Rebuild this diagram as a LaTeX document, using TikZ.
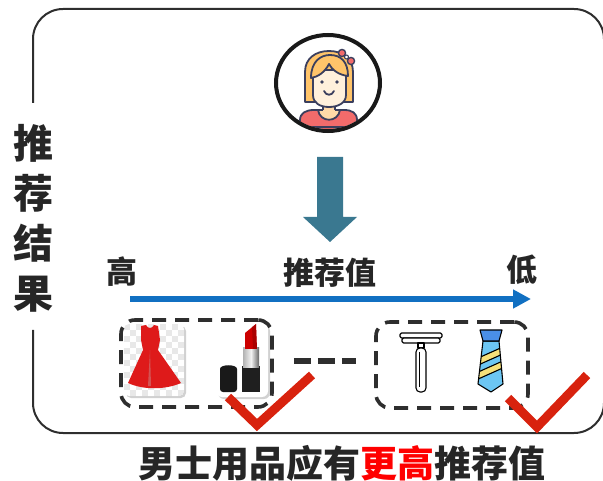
\documentclass[tikz,border=0pt]{standalone}
\usepackage{fontspec}
\setmainfont{Noto Sans CJK SC}
\usetikzlibrary{arrows.meta,shapes.geometric}
\definecolor{ink}{HTML}{262626}
\definecolor{framec}{HTML}{2E2E2E}
\definecolor{teal}{HTML}{3A7890}
\definecolor{axisblue}{HTML}{1170C2}
\definecolor{checkred}{HTML}{D8220E}
\definecolor{hair}{HTML}{FFC46A}
\definecolor{skin}{HTML}{FFF0DC}
\definecolor{neckc}{HTML}{FFD9A8}
\definecolor{dressc}{HTML}{F26B6B}
\definecolor{outl}{HTML}{3B3F5E}
\definecolor{dressred}{HTML}{DE1A1A}
\definecolor{tieknot}{HTML}{4A8FE8}
\definecolor{tiebody}{HTML}{6CC6F3}
\definecolor{tiestripe}{HTML}{F5E07A}
\tikzset{
  label/.style={text=ink, font=\bfseries\fontsize{31}{31}\selectfont, inner sep=0pt},
  dbox/.style={draw=framec, line width=3.6pt, dash pattern=on 14pt off 9pt,
    rounded corners=14pt, inner sep=0pt},
  tick/.style={draw=checkred, line width=9pt, miter limit=10},
  toon/.style={draw=outl, line width=1.8pt, line join=round},
  thing/.style={draw=black, line width=1.1pt, line join=round}
}
\begin{document}
\begin{tikzpicture}[x=1pt,y=-1pt]
\useasboundingbox (0,0) rectangle (603,481);

% outer frame, open on the left around the vertical title
\draw[framec, line width=2pt, rounded corners=30pt]
  (33,103) -- (33,9) -- (604,9) -- (604,433) -- (33,433) -- (33,330);
\node[text=ink, font=\bfseries\fontsize{40}{50}\selectfont, align=center, inner sep=0pt]
  (side) at (33,218) {推\\荐\\结\\果};

% user avatar
\begin{scope}
  \clip (328,83) ellipse [x radius=50pt, y radius=46pt];
  \fill[white] (270,30) rectangle (390,140);
  % back hair
  \filldraw[toon, fill=hair] (305,102) -- (305,72)
    .. controls (305,58) and (316,51) .. (329,51)
    .. controls (342,51) and (353,58) .. (353,72) -- (353,102) -- cycle;
  % body and neck
  \filldraw[toon, fill=dressc] (300,132) -- (300,120)
    .. controls (300,113) and (306,110) .. (314,110) -- (344,110)
    .. controls (352,110) and (357,113) .. (357,120) -- (357,132) -- cycle;
  \filldraw[toon, fill=neckc] (318,110) .. controls (320,123) and (338,123) .. (340,110) -- cycle;
  \fill[neckc] (323,100) rectangle (335,111);
  \draw[toon] (323,100) -- (323,110) (335,100) -- (335,110);
  % face
  \filldraw[toon, fill=skin] (313,70) -- (313,95)
    .. controls (313,103) and (320,107) .. (329,107)
    .. controls (338,107) and (346,103) .. (346,95) -- (346,70) -- cycle;
  % fringe
  \filldraw[toon, fill=hair] (311,78)
    .. controls (311,61) and (321,55) .. (330,55)
    .. controls (341,55) and (348,62) .. (348,76)
    .. controls (339,75) and (332,70) .. (329,64)
    .. controls (325,72) and (318,77) .. (311,78) -- cycle;
  % eyes and smile
  \fill[outl] (322,82) circle [radius=1.9pt] (337,82) circle [radius=1.9pt];
  \draw[toon, line cap=round] (324,91) .. controls (326,96) and (332,96) .. (334,91);
  % bow
  \filldraw[toon, fill=dressc, line width=1.4pt] (342,53) circle [radius=3.6pt] (351,61) circle [radius=3.6pt];
  \filldraw[toon, fill=white, line width=1.1pt] (346.5,57) circle [radius=2pt];
  \draw[outl, line width=2pt] (295,127.5) -- (362,127.5);
\end{scope}
\node[draw=black!90, line width=4pt, ellipse, minimum width=104pt, minimum height=96pt,
  inner sep=0pt] (avatar) at (328,83) {};

% block arrow down to the ranking axis
\fill[teal] (317,157) -- (343,157) -- (343,217) -- (357,217) -- (330,242)
  -- (303,217) -- (317,217) -- cycle;

% ranking axis
\node[label] (hi) at (122,272) {高};
\node[label] (mid) at (330,273) {推荐值};
\node[label] (lo) at (522,270) {低};
\coordinate (axisL) at (130,299);
\coordinate (axisR) at (531,299);
\draw[axisblue, line width=6.5pt, -{Triangle[length=18pt,width=18pt]}] (axisL) -- (axisR);

% dress picture
\fill[black!18, rounded corners=5pt] (126,326) rectangle (186,398);
\begin{scope}
  \clip[rounded corners=5pt] (124,324) rectangle (184,396);
  \fill[white] (124,324) rectangle (184,396);
  \foreach \i in {0,2,...,10}
    \foreach \j in {0,2,...,12} {
      \fill[black!9] (124+\i*6,324+\j*6) rectangle +(6,6);
      \fill[black!9] (130+\i*6,330+\j*6) rectangle +(6,6);
    }
\end{scope}
\fill[dressred] (141,326) -- (146,325) .. controls (148,329) and (152,329) .. (154,325)
  -- (158,326) -- (160,340) -- (158,350) -- (181,383)
  .. controls (165,390) and (143,390) .. (128,383) -- (143,350) -- (141,340) -- cycle;
\fill[black!25, opacity=.35] (150,350) -- (148,386) -- (151,386) -- cycle;

% lipstick picture
\fill[black!18, rounded corners=6pt] (218,325) rectangle (270,399);
\fill[white, rounded corners=6pt] (216,323) rectangle (268,397);
\fill[black!90, rounded corners=3pt] (220,392) -- (220,372)
  .. controls (220,364) and (237,364) .. (237,372) -- (237,392) -- cycle;
\fill[black!88] (242,366) rectangle (260,392);
\shade[left color=black!30, right color=black!60, middle color=black!5] (243,348) rectangle (259,367);
\fill[red!80!black] (245,349) -- (245,333) -- (256,324) -- (257,349) -- cycle;
\fill[red!55!black, opacity=.5] (252,327) -- (256,324) -- (257,349) -- (253,349) -- cycle;

% razor
\filldraw[thing, fill=white, rounded corners=1.5pt] (400,333) rectangle (442,338);
\filldraw[thing, fill=white, rounded corners=1.5pt] (402,338) rectangle (440,343);
\filldraw[thing, fill=white] (418,343) rectangle (424,348);
\filldraw[thing, fill=white, rounded corners=4pt] (416,348) rectangle (426,392);
\draw[black, line width=0.7pt] (419,352) -- (419,387);

% necktie
\begin{scope}
  \clip (483,341) -- (499,341) -- (503,384) -- (491,392) -- (478,384) -- cycle;
  \fill[tiebody] (470,335) rectangle (510,395);
  \filldraw[thing, fill=tiestripe] (476,359) -- (505,346) -- (505,353) -- (476,366) -- cycle;
  \filldraw[thing, fill=tiestripe] (476,373) -- (505,360) -- (505,367) -- (476,380) -- cycle;
\end{scope}
\draw[thing] (483,341) -- (499,341) -- (503,384) -- (491,392) -- (478,384) -- cycle;
\filldraw[thing, fill=tieknot] (480,330) -- (502,330) -- (499,341) -- (483,341) -- cycle;

% dashed groups
\node[dbox, minimum width=151pt, minimum height=87pt] (lbox) at (196.5,363.5) {};
\node[dbox, minimum width=152pt, minimum height=86pt] (rbox) at (452,365) {};
\draw[framec, line width=5.5pt, dash pattern=on 17pt off 7pt, shorten <=20pt, shorten >=18pt]
  ([yshift=2.5pt]lbox.east) -- ([yshift=4pt]rbox.west);

% check marks
\draw[tick] (228,397) -- (257,425) -- (312,375);
\draw[tick] (508,398) -- (537,427) -- (587,375);

% conclusion
\node[text=ink, font=\bfseries\fontsize{37}{37}\selectfont, inner sep=0pt] (caption)
  at (342,463) {男士用品应有\textcolor{red}{更高}推荐值};
\end{tikzpicture}
\end{document}
